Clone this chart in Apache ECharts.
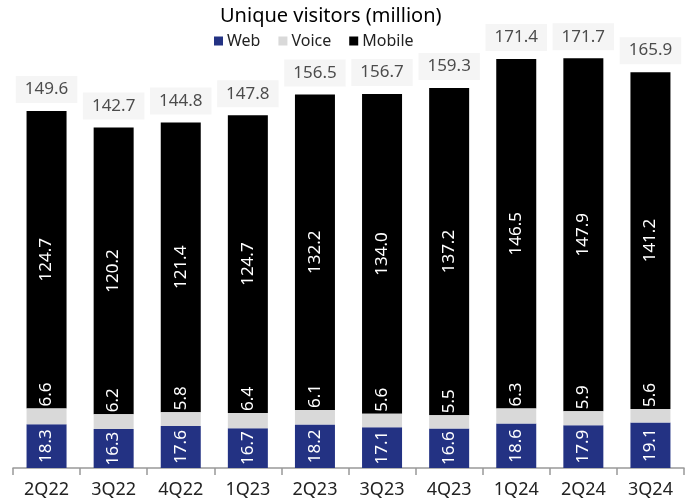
<!DOCTYPE html>
<html><head><meta charset="utf-8">
<script src="https://cdn.jsdelivr.net/npm/echarts@6/dist/echarts.min.js"></script>
<style>html,body{margin:0;padding:0;background:#fff}#c{width:689px;height:504px}</style>
</head><body><div id="c"></div>
<script>
const categories = ['2Q22','3Q22','4Q22','1Q23','2Q23','3Q23','4Q23','1Q24','2Q24','3Q24'];
const web = [18.3,16.3,17.6,16.7,18.2,17.1,16.6,18.6,17.9,19.1];
const voice = [6.6,6.2,5.8,6.4,6.1,5.6,5.5,6.3,5.9,5.6];
const mobile = [124.7,120.2,121.4,124.7,132.2,134.0,137.2,146.5,147.9,141.2];
const totals = [149.6,142.7,144.8,147.8,156.5,156.7,159.3,171.4,171.7,165.9];

const FONT = 'Noto Sans';
const chart = echarts.init(document.getElementById('c'), null, {renderer:'canvas'});
const insideLabel = {show:true, position:'inside', rotate:90, color:'#fff', fontSize:17, fontFamily:FONT,
  formatter: p => p.value.toFixed(1)};
chart.setOption({
  animation:false,
  title:{text:'Unique visitors (million)', left:215, top:1,
    textStyle:{fontFamily:FONT, fontSize:20, fontWeight:'normal', color:'#000'}},
  legend:{top:28, left:209, itemWidth:9, itemHeight:9, itemGap:18, icon:'rect',
    data:['Web','Voice','Mobile'],
    textStyle:{fontFamily:FONT, fontSize:16, color:'#222', padding:[0,0,0,-1]}},
  grid:{left:13, right:5, top:38.5, bottom:36},
  xAxis:{type:'category', data:categories,
    axisLine:{lineStyle:{color:'#999', width:1.5}},
    axisTick:{show:true, length:7, lineStyle:{color:'#999', width:1.5}},
    axisLabel:{fontFamily:FONT, fontSize:18, color:'#222', margin:13}},
  yAxis:{type:'value', min:0, max:180, show:false, splitLine:{show:false}},
  series:[
    {name:'Web', type:'bar', stack:'a', data:web, barWidth:40, itemStyle:{color:'#233283'}, label:insideLabel},
    {name:'Voice', type:'bar', stack:'a', data:voice, barWidth:40, itemStyle:{color:'#d9d9d9'},
      label:{show:true, position:'top', rotate:90, align:'left', verticalAlign:'middle', distance:2,
        color:'#fff', fontSize:17, fontFamily:FONT, formatter:p=>p.value.toFixed(1)}},
    {name:'Mobile', type:'bar', stack:'a', data:mobile, barWidth:40, itemStyle:{color:'#000'}, label:insideLabel, z:1},
    {name:'Total', type:'scatter', data:totals, symbolSize:0, silent:true,
      label:{show:true, position:'top', distance:8, backgroundColor:'#f2f2f2', padding:[5,9,5,9],
        color:'#222', fontSize:17, fontFamily:FONT, formatter:p=>p.value.toFixed(1)}}
  ]
});
</script></body></html>
